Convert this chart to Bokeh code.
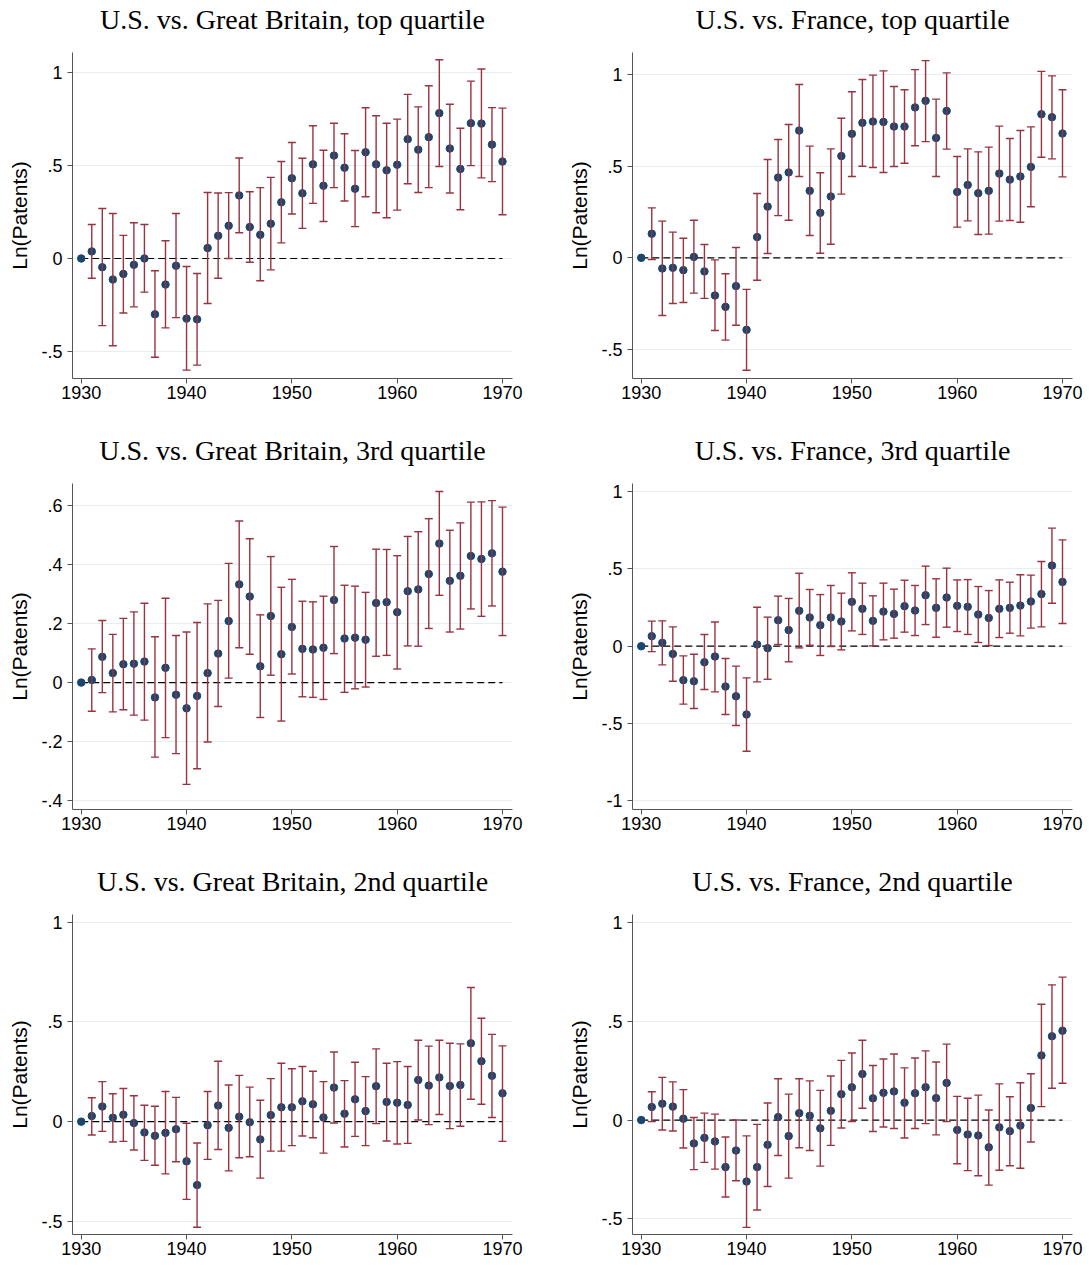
from bokeh.plotting import figure
from bokeh.layouts import gridplot
from bokeh.models import ColumnDataSource, Whisker, TeeHead, FixedTicker, Range1d, Title
from bokeh.embed import file_html
from bokeh.resources import INLINE

years = list(range(1930, 1971))

# U.S. vs. Great Britain, top quartile
gb_top_est = [0, .038, -.047, -.113, -.083, -.034, 0.0, -.300, -.140, -.039, -.323, -.327, .056, .122, .176, .339, .169, .127, .187, .302, .431,
              .350, .506, .391, .553, .488, .375, .571, .506, .474, .504, .641, .585, .652, .781, .591, .481, .727, .725, .612, .521]
gb_top_lo = [0, -.106, -.361, -.469, -.293, -.260, -.181, -.531, -.373, -.318, -.600, -.573, -.242, -.106, 0.0, .138, -.020, -.120, -.061, .084, .239,
             .162, .296, .199, .381, .309, .171, .332, .246, .219, .260, .402, .355, .381, .494, .352, .262, .499, .433, .413, .235]
gb_top_hi = [0, .183, .269, .242, .124, .192, .183, -.066, .095, .242, -.043, -.081, .355, .352, .354, .540, .359, .381, .436, .521, .623,
             .539, .713, .582, .727, .670, .580, .810, .767, .727, .749, .882, .815, .928, 1.068, .829, .700, .953, 1.018, .811, .808]

# U.S. vs. France, top quartile
fr_top_est = [0, .131, -.058, -.054, -.067, .005, -.074, -.205, -.267, -.154, -.392, .113, .279, .437, .465, .693, .365, .245, .334, .554, .675,
              .735, .742, .740, .715, .715, .819, .855, .653, .800, .359, .397, .352, .365, .459, .426, .443, .495, .782, .766, .677]
fr_top_lo = [0, -.009, -.314, -.249, -.243, -.192, -.221, -.396, -.448, -.367, -.612, -.122, .024, .230, .205, .443, .122, .025, .074, .347, .443,
             .499, .492, .465, .497, .515, .610, .633, .443, .592, .167, .201, .127, .129, .200, .203, .194, .278, .548, .539, .441]
fr_top_hi = [0, .272, .200, .140, .107, .205, .073, -.011, -.087, .056, -.172, .350, .535, .644, .726, .944, .608, .463, .593, .760, .904,
             .971, .995, 1.018, .933, .915, 1.025, 1.074, .864, 1.007, .552, .593, .577, .603, .717, .650, .693, .713, 1.015, .991, .915]

# U.S. vs. Great Britain, 3rd quartile
gb_3_est = [0, .009, .087, .032, .062, .064, .071, -.050, .050, -.041, -.087, -.045, .032, .098, .208, .332, .291, .055, .225, .096, .188,
            .114, .112, .118, .279, .149, .152, .145, .269, .272, .238, .309, .315, .367, .470, .344, .361, .428, .418, .437, .375]
gb_3_lo = [0, -.097, -.034, -.099, -.092, -.110, -.127, -.252, -.186, -.240, -.344, -.291, -.201, -.081, .015, .118, .096, -.118, .025, -.130, .029,
           -.048, -.050, -.057, .098, -.033, -.021, -.015, .089, .092, .046, .124, .123, .183, .295, .171, .181, .249, .224, .259, .159]
gb_3_hi = [0, .114, .210, .163, .217, .239, .268, .155, .285, .159, .171, .203, .266, .278, .403, .546, .486, .229, .426, .322, .349,
           .275, .273, .292, .460, .329, .326, .305, .451, .450, .429, .494, .510, .554, .646, .515, .540, .610, .611, .615, .593]

# U.S. vs. France, 3rd quartile
fr_3_est = [0, .065, .022, -.050, -.220, -.227, -.104, -.067, -.261, -.324, -.442, .011, -.013, .168, .104, .229, .186, .136, .186, .160, .287,
            .242, .164, .224, .209, .259, .231, .330, .248, .315, .261, .255, .205, .183, .242, .248, .263, .289, .337, .522, .416]
fr_3_lo = [0, -.035, -.121, -.227, -.375, -.403, -.280, -.296, -.442, -.513, -.680, -.231, -.214, .011, -.101, -.011, .006, -.060, -.002, -.024, .099,
           .076, .002, .041, .052, .091, .069, .140, .058, .123, .095, .076, .024, .004, .056, .084, .067, .117, .125, .278, .147]
fr_3_hi = [0, .162, .164, .125, -.063, -.052, .076, .157, -.080, -.129, -.205, .252, .188, .324, .309, .472, .367, .334, .393, .343, .475,
           .408, .326, .408, .369, .427, .393, .518, .436, .505, .429, .431, .386, .360, .429, .414, .462, .460, .548, .764, .688]

# U.S. vs. Great Britain, 2nd quartile
gb_2_est = [0, .028, .076, .020, .035, -.007, -.054, -.071, -.056, -.038, -.199, -.318, -.018, .081, -.031, .025, -.003, -.089, .033, .072, .072,
            .102, .087, .021, .171, .040, .112, .053, .178, .099, .095, .084, .209, .181, .222, .179, .184, .393, .303, .230, .142]
gb_2_lo = [0, -.067, -.049, -.102, -.099, -.142, -.194, -.219, -.262, -.201, -.390, -.530, -.189, -.140, -.247, -.181, -.176, -.283, -.148, -.148, -.120,
           -.072, -.081, -.158, -.007, -.127, -.074, -.120, -.010, -.097, -.112, -.109, .008, -.015, .036, -.035, -.023, .112, .087, .021, -.099]
gb_2_hi = [0, .120, .201, .140, .166, .130, .082, .077, .151, .122, -.008, -.107, .151, .303, .184, .232, .173, .107, .216, .293, .265,
           .277, .253, .201, .349, .206, .298, .226, .365, .293, .301, .277, .408, .379, .408, .393, .390, .673, .519, .438, .380]

# U.S. vs. France, 2nd quartile
fr_2_est = [0, .066, .083, .068, .007, -.118, -.090, -.108, -.238, -.154, -.311, -.238, -.125, .015, -.081, .035, .022, -.042, .047, .131, .166,
            .233, .110, .138, .145, .088, .136, .166, .111, .188, -.050, -.073, -.078, -.138, -.037, -.056, -.028, .061, .327, .424, .452]
fr_2_lo = [0, -.008, -.050, -.055, -.141, -.251, -.214, -.248, -.389, -.307, -.543, -.455, -.336, -.179, -.294, -.140, -.154, -.233, -.128, -.040, -.007,
           .060, -.058, -.035, -.043, -.091, -.043, -.018, -.075, -.008, -.221, -.256, -.282, -.329, -.254, -.231, -.244, -.111, .068, .161, .186]
fr_2_hi = [0, .143, .216, .193, .154, .013, .035, .030, -.086, 0.0, -.080, -.022, .086, .209, .131, .209, .198, .150, .223, .302, .339,
           .404, .276, .309, .334, .264, .314, .350, .294, .384, .120, .110, .126, .051, .183, .118, .189, .234, .586, .684, .723]

x_ticks = [1930, 1940, 1950, 1960, 1970]
ticks_half = [-0.5, 0, 0.5, 1]
ticks_fifth = [-0.4, -0.2, 0, 0.2, 0.4, 0.6]
ticks_unit = [-1, -0.5, 0, 0.5, 1]

NAVY = "#1a476f"
RED = "#983340"


def stata_label(v):
    s = "%g" % v
    return s.replace("0.", ".")


def panel(title, est, lo, hi, yr, yticks, left, row):
    if left:
        w, bl, br = 560, 72, 48
    else:
        w, bl, br = 529, 72, 17
    if row == 2:
        h, bb = 400, 28
    else:
        h, bb = 431, 53
    p = figure(width=w, height=h,
               x_range=Range1d(1929.17, 1970.95), y_range=Range1d(*yr),
               output_backend="svg", toolbar_location=None,
               min_border_left=bl, min_border_right=br,
               min_border_top=52, min_border_bottom=bb)
    # a blank strip between the title and the plot frame
    p.add_layout(Title(text=" ", text_font_size="14px", standoff=0), "above")
    p.add_layout(Title(text=title, text_font="Liberation Serif", text_font_size="28px",
                       text_font_style="normal", text_color="black", align="center",
                       standoff=0), "above")
    p.outline_line_color = None
    p.background_fill_color = "white"

    p.xaxis.ticker = FixedTicker(ticks=x_ticks)
    p.yaxis.ticker = FixedTicker(ticks=yticks)
    p.yaxis.major_label_overrides = {t: stata_label(t) for t in yticks}
    p.yaxis.axis_label = "Ln(Patents)"
    p.yaxis.axis_label_text_font = "Liberation Sans"
    p.yaxis.axis_label_text_font_size = "21px"
    p.yaxis.axis_label_text_font_style = "normal"
    p.yaxis.axis_label_text_color = "black"
    p.yaxis.axis_label_standoff = 7
    p.axis.major_label_text_font = "Liberation Sans"
    p.axis.major_label_text_font_size = "18px"
    p.axis.major_label_text_color = "black"
    p.axis.axis_line_color = "#555555"
    p.axis.major_tick_line_color = "#555555"
    p.axis.major_tick_in = 0
    p.axis.major_tick_out = 5
    p.axis.minor_tick_line_color = None
    p.xaxis.major_label_standoff = 2
    p.yaxis.major_label_standoff = 5
    p.xgrid.grid_line_color = None
    p.ygrid.grid_line_color = "#e6eef0"
    p.ygrid.grid_line_width = 1

    p.line([years[0], years[-1]], [0, 0], line_dash="7 4", line_color="black", line_width=1.2)

    src = ColumnDataSource(data=dict(year=years[1:], lo=lo[1:], hi=hi[1:]))
    wk = Whisker(source=src, base="year", lower="lo", upper="hi",
                 line_color=RED, line_width=1.4, level="glyph",
                 upper_head=TeeHead(size=8, line_color=RED, line_width=1.4),
                 lower_head=TeeHead(size=8, line_color=RED, line_width=1.4))
    p.add_layout(wk)
    p.scatter(years, est, size=7.5, fill_color=NAVY, line_color=NAVY)
    return p


figs = [
    [panel("U.S. vs. Great Britain, top quartile", gb_top_est, gb_top_lo, gb_top_hi, (-0.645, 1.107), ticks_half, True, 0),
     panel("U.S. vs. France, top quartile", fr_top_est, fr_top_lo, fr_top_hi, (-0.657, 1.118), ticks_half, False, 0)],
    [panel("U.S. vs. Great Britain, 3rd quartile", gb_3_est, gb_3_lo, gb_3_hi, (-0.429, 0.673), ticks_fifth, True, 1),
     panel("U.S. vs. France, 3rd quartile", fr_3_est, fr_3_lo, fr_3_hi, (-1.057, 1.053), ticks_unit, False, 1)],
    [panel("U.S. vs. Great Britain, 2nd quartile", gb_2_est, gb_2_lo, gb_2_hi, (-0.566, 1.039), ticks_half, True, 2),
     panel("U.S. vs. France, 2nd quartile", fr_2_est, fr_2_lo, fr_2_hi, (-0.579, 1.040), ticks_half, False, 2)],
]

p = gridplot(figs, toolbar_location=None)

open("out.html", "w").write(file_html(p, INLINE))
